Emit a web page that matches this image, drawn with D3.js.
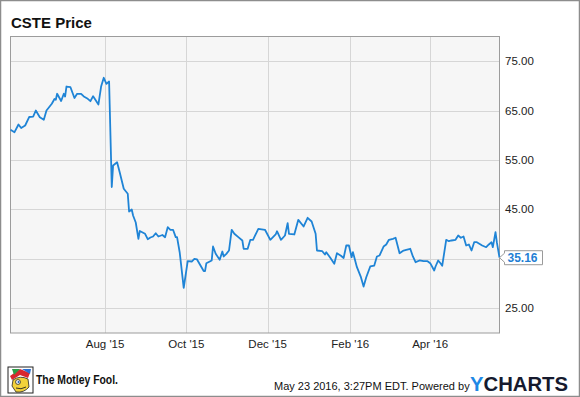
<!DOCTYPE html>
<html>
<head>
<meta charset="utf-8">
<script src="https://cdn.jsdelivr.net/npm/d3@7"></script>
<style>
  body { margin: 0; background: #fff; }
  svg { display: block; font-family: "Liberation Sans", Arial, sans-serif; }
</style>
</head>
<body>
<svg width="580" height="397"></svg>
<script>
// CSTE daily close
const dates = [
  "2015-05-22","2015-05-25","2015-05-28","2015-05-30","2015-06-02","2015-06-05","2015-06-08","2015-06-10",
  "2015-06-13","2015-06-16","2015-06-18","2015-06-22","2015-06-24","2015-06-25","2015-06-26","2015-06-29",
  "2015-07-01","2015-07-02","2015-07-03","2015-07-06","2015-07-09","2015-07-11","2015-07-14","2015-07-16",
  "2015-07-19","2015-07-21","2015-07-23","2015-07-27","2015-07-29","2015-07-31","2015-08-02","2015-08-04",
  "2015-08-06","2015-08-07","2015-08-10","2015-08-12","2015-08-15","2015-08-18","2015-08-19","2015-08-21",
  "2015-08-22","2015-08-24","2015-08-26","2015-08-27","2015-08-31","2015-09-02","2015-09-04","2015-09-06",
  "2015-09-08","2015-09-10","2015-09-13","2015-09-15","2015-09-17","2015-09-19","2015-09-21","2015-09-23",
  "2015-09-24","2015-09-26","2015-09-29","2015-10-02","2015-10-05","2015-10-07","2015-10-09","2015-10-13",
  "2015-10-14","2015-10-15","2015-10-16","2015-10-20","2015-10-21","2015-10-23","2015-10-26","2015-10-28",
  "2015-10-29","2015-10-31","2015-11-02","2015-11-04","2015-11-06","2015-11-09","2015-11-12","2015-11-13",
  "2015-11-16","2015-11-18","2015-11-20","2015-11-24","2015-11-29","2015-12-03","2015-12-07","2015-12-08",
  "2015-12-11","2015-12-14","2015-12-16","2015-12-17","2015-12-21","2015-12-24","2015-12-28","2015-12-31",
  "2016-01-03","2016-01-06","2016-01-07","2016-01-11","2016-01-13","2016-01-14","2016-01-17","2016-01-20",
  "2016-01-22","2016-01-25","2016-01-27","2016-01-29","2016-01-31","2016-02-02","2016-02-03","2016-02-06",
  "2016-02-09","2016-02-11","2016-02-13","2016-02-16","2016-02-19","2016-02-21","2016-02-23","2016-02-26",
  "2016-02-28","2016-03-01","2016-03-04","2016-03-06","2016-03-09","2016-03-12","2016-03-14","2016-03-17",
  "2016-03-19","2016-03-21","2016-03-24","2016-03-27","2016-03-30","2016-04-01","2016-04-04","2016-04-05",
  "2016-04-07","2016-04-09","2016-04-10","2016-04-11","2016-04-13","2016-04-15","2016-04-17","2016-04-20",
  "2016-04-22","2016-04-24","2016-04-26","2016-04-28","2016-04-30","2016-05-02","2016-05-04","2016-05-06",
  "2016-05-10","2016-05-13","2016-05-15","2016-05-17","2016-05-18","2016-05-20","2016-05-21","2016-05-23"
];
const prices = [
  61.09,60.60,62.16,61.45,61.96,63.68,63.78,65.00,
  63.64,63.12,65.00,66.36,67.33,67.17,68.39,66.93,
  68.39,67.84,69.86,69.72,67.53,68.39,68.39,67.84,
  67.37,66.89,67.90,66.22,69.86,71.63,70.41,70.88,
  49.49,53.85,54.52,52.43,49.13,48.12,44.53,44.93,
  43.72,42.30,38.99,40.57,40.01,38.91,39.26,39.46,
  40.13,39.46,39.76,39.32,41.34,40.82,40.82,39.34,
  39.32,36.22,29.06,34.45,34.39,34.94,34.80,32.91,
  32.43,32.43,34.05,34.60,37.43,35.95,34.74,36.42,
  35.41,35.95,36.62,40.82,40.01,39.32,38.65,36.97,
  36.97,38.79,38.79,41.02,40.82,38.79,39.87,40.53,
  38.79,39.66,42.16,40.01,39.87,42.84,41.49,43.25,
  42.50,40.01,36.62,36.48,35.81,36.28,35.14,33.93,
  36.07,35.55,35.10,37.64,37.64,35.26,36.28,33.24,
  31.21,29.32,31.21,33.38,33.58,35.41,35.61,37.43,
  37.84,38.79,38.99,39.20,36.07,36.62,36.76,36.97,
  35.41,34.25,34.60,34.45,34.45,34.05,32.57,33.38,
  34.60,33.93,33.52,35.26,38.79,38.51,38.65,38.79,
  39.66,39.20,39.46,37.64,37.84,36.62,38.30,38.30,
  37.64,37.29,37.84,38.30,37.29,40.33,38.30,35.16
];
const yGrid = [25, 35, 45, 55, 65, 75];
const yLabels = [25, 45, 55, 65, 75];
const xTicks = ["2015-08-01", "2015-10-01", "2015-12-01", "2016-02-01", "2016-04-01"];
const xLabels = ["Aug '15", "Oct '15", "Dec '15", "Feb '16", "Apr '16"];
const lastLabel = "35.16";

const parse = d3.timeParse("%Y-%m-%d");
const data = dates.map((d, i) => ({ date: parse(d), value: prices[i] }));

const svg = d3.select("svg");
const plotL = 10.5, plotR = 499.5, plotT = 36.5, plotB = 333;

const x = d3.scaleTime()
  .domain([parse("2015-05-22"), parse("2016-05-23")])
  .range([plotL, plotR]);
const y = d3.scaleLinear().domain([20, 80]).range([332.5, 36.5]);

// outer frame
svg.append("rect")
  .attr("x", 0.5).attr("y", 0.5).attr("width", 579).attr("height", 396)
  .attr("fill", "#fff").attr("stroke", "#8d8d8d").attr("stroke-width", 1.5);

svg.append("text")
  .attr("x", 11).attr("y", 28)
  .attr("font-size", 15).attr("font-weight", "bold").attr("fill", "#111")
  .text("CSTE Price");

// plot background
svg.append("rect")
  .attr("x", plotL).attr("y", plotT).attr("width", plotR - plotL).attr("height", plotB - plotT)
  .attr("fill", "#f6f6f6");

// grid
svg.append("g").selectAll("line").data(yGrid).join("line")
  .attr("x1", plotL).attr("x2", plotR)
  .attr("y1", d => Math.round(y(d)) + 0.5).attr("y2", d => Math.round(y(d)) + 0.5)
  .attr("stroke", "#d6d6d6");

svg.append("g").selectAll("line").data(xTicks).join("line")
  .attr("x1", d => Math.round(x(parse(d))) + 0.5).attr("x2", d => Math.round(x(parse(d))) + 0.5)
  .attr("y1", plotT).attr("y2", plotB)
  .attr("stroke", "#d6d6d6");

// plot border
svg.append("rect")
  .attr("x", plotL).attr("y", plotT).attr("width", plotR - plotL).attr("height", plotB - plotT)
  .attr("fill", "none").attr("stroke", "#9c9c9c");

// y labels on the right
svg.append("g").selectAll("text").data(yLabels).join("text")
  .attr("x", 505).attr("y", d => y(d) + 4)
  .attr("font-size", 11.5).attr("fill", "#222")
  .text(d => d3.format(".2f")(d));

// x labels
svg.append("g").selectAll("text").data(xTicks).join("text")
  .attr("x", d => x(parse(d))).attr("y", 348)
  .attr("text-anchor", "middle")
  .attr("font-size", 11.5).attr("fill", "#222")
  .text((d, i) => xLabels[i]);

// price line
const line = d3.line().x(d => x(d.date)).y(d => y(d.value));
svg.append("path")
  .datum(data)
  .attr("d", line)
  .attr("fill", "none")
  .attr("stroke", "#1f84d6")
  .attr("stroke-width", 1.8)
  .attr("stroke-linejoin", "round");

// last value callout
const last = data[data.length - 1];
const ly = y(last.value);
const lx = x(last.date);
svg.append("path")
  .attr("d", `M${lx},${ly} L${lx + 5},${ly - 4.5} L${lx + 5},${ly - 7} L${lx + 43},${ly - 7} L${lx + 43},${ly + 7} L${lx + 5},${ly + 7} L${lx + 5},${ly + 4.5} Z`)
  .attr("fill", "#fff").attr("stroke", "#9a9a9a");
svg.append("text")
  .attr("x", lx + 8).attr("y", ly + 4.5)
  .attr("font-size", 12).attr("font-weight", "bold").attr("fill", "#1f7fd4")
  .text(lastLabel);

// footer: Motley Fool mark
const mf = svg.append("g").attr("transform", "translate(8,367)");
mf.append("rect").attr("width", 25).attr("height", 26).attr("fill", "#fff").attr("stroke", "#222").attr("stroke-width", 1);
mf.append("path").attr("d", "M2,9 L12,2 L22,6 L20,11 L12,8 L4,13 Z").attr("fill", "#d8262d");
mf.append("path").attr("d", "M4,2 L12,2 L6,8 Z").attr("fill", "#2a9d46");
mf.append("path").attr("d", "M14,2 L23,2 L22,7 Z").attr("fill", "#2a6fd0");
mf.append("path").attr("d", "M5,13 Q12,8 20,12 L21,20 Q16,26 8,25 L4,19 Z").attr("fill", "#f3d23a").attr("stroke", "#222").attr("stroke-width", 0.8);
mf.append("circle").attr("cx", 10).attr("cy", 15).attr("r", 2.4).attr("fill", "#fff").attr("stroke", "#222").attr("stroke-width", 0.8);
mf.append("circle").attr("cx", 10.5).attr("cy", 15).attr("r", 1).attr("fill", "#1a5fb4");
mf.append("path").attr("d", "M8,21 Q13,23 18,20").attr("fill", "none").attr("stroke", "#222").attr("stroke-width", 0.9);

svg.append("text")
  .attr("x", 36).attr("y", 384)
  .attr("font-size", 12).attr("font-weight", "bold").attr("fill", "#111")
  .attr("textLength", 82).attr("lengthAdjust", "spacingAndGlyphs")
  .text("The Motley Fool.");

svg.append("text")
  .attr("x", 274).attr("y", 390)
  .attr("font-size", 11).attr("fill", "#111")
  .text("May 23 2016, 3:27PM EDT.  Powered by");

const yc = svg.append("text")
  .attr("x", 470).attr("y", 391)
  .attr("font-size", 21).attr("font-weight", "bold")
  .attr("textLength", 98).attr("lengthAdjust", "spacingAndGlyphs");
yc.append("tspan").attr("fill", "#1e88e5").text("Y");
yc.append("tspan").attr("fill", "#161a2e").text("CHARTS");
</script>
</body>
</html>
